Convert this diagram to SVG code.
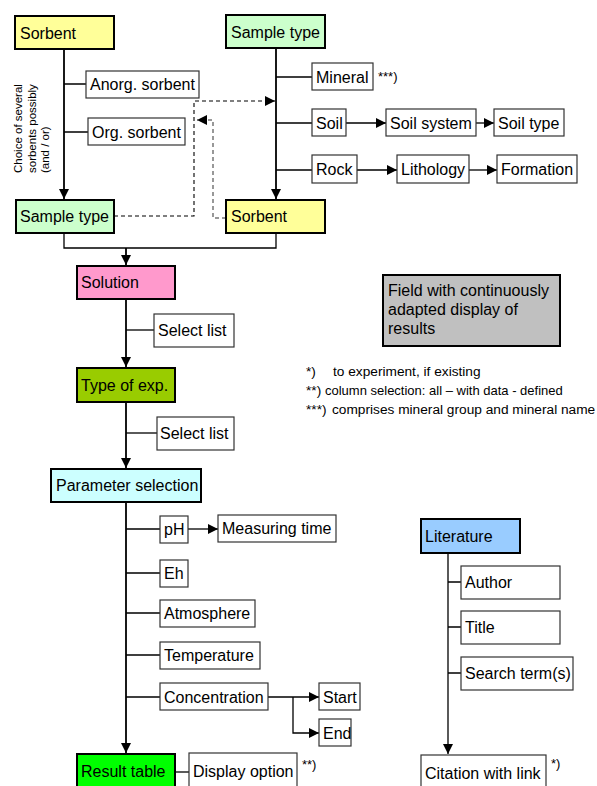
<svg xmlns="http://www.w3.org/2000/svg" width="597" height="786" viewBox="0 0 597 786">
  <style>
    text { font-family: "Liberation Sans", Arial, sans-serif; fill: #000; }
    .lbl { font-size: 16px; }
    .note { font-size: 13px; }
    .fn { font-size: 13.7px; }
    .small { font-size: 11.5px; }
    .main { stroke: #000; stroke-width: 2; }
    .sub { fill: #fff; stroke: #333; stroke-width: 1.2; }
    .ln { fill: none; stroke: #000; stroke-width: 1.3; }
    .trunk { fill: none; stroke: #000; stroke-width: 1.8; }
    .dash { fill: none; stroke: #000; stroke-width: 1.1; stroke-dasharray: 4 3; }
    .dashg { fill: none; stroke: #777; stroke-width: 1.5; stroke-dasharray: 4 3; }
  </style>
  <defs>
    <marker id="arr" markerUnits="userSpaceOnUse" markerWidth="11" markerHeight="10" refX="10" refY="5" orient="auto">
      <path d="M0,0 L10,5 L0,10 z" fill="#000"/>
    </marker>
  </defs>

  <!-- connectors -->
  <g id="connectors">
    <path class="trunk" d="M64,49 V199" marker-end="url(#arr)"/>
    <path class="ln" d="M64,84 H86 M64,132 H88"/>
    <path class="trunk" d="M276,48 V199" marker-end="url(#arr)"/>
    <path class="ln" d="M276,77 H312 M276,123 H312 M276,170 H312"/>
    <path class="ln" d="M346,123 H386" marker-end="url(#arr)"/>
    <path class="ln" d="M476,123 H494" marker-end="url(#arr)"/>
    <path class="ln" d="M357,170 H397" marker-end="url(#arr)"/>
    <path class="ln" d="M469,170 H497" marker-end="url(#arr)"/>
    <path class="dash" d="M114,216 H194 V101 H275" marker-end="url(#arr)"/>
    <path class="dashg" d="M226,218 H213 V120 H197" marker-end="url(#arr)"/>
    <path class="ln" d="M64,233 V248 H276 V233"/>
    <path class="trunk" d="M126,248 V265" marker-end="url(#arr)"/>
    <path class="trunk" d="M126,299 V367" marker-end="url(#arr)"/>
    <path class="ln" d="M126,330 H154"/>
    <path class="trunk" d="M126,402 V468" marker-end="url(#arr)"/>
    <path class="ln" d="M126,433 H157"/>
    <path class="trunk" d="M126,502 V753" marker-end="url(#arr)"/>
    <path class="ln" d="M126,529 H160 M126,573 H160 M126,613 H160 M126,655 H160 M126,697 H160"/>
    <path class="ln" d="M188,529 H218" marker-end="url(#arr)"/>
    <path class="ln" d="M268,697 H319" marker-end="url(#arr)"/>
    <path class="ln" d="M293,697 V733 H319" marker-end="url(#arr)"/>
    <path class="ln" d="M175,772 H189"/>
    <path class="ln" d="M448,553 V754" marker-end="url(#arr)"/>
    <path class="ln" d="M448,582 H461 M448,627 H461 M448,673 H461"/>
  </g>

  <!-- upper left branch -->
  <g id="sorbent-top">
    <rect class="main" x="15" y="16" width="99" height="33" fill="#FFFF99"/>
    <text class="lbl" x="20" y="39">Sorbent</text>
  </g>
  <g id="anorg-sorbent">
    <rect class="sub" x="86" y="71" width="113" height="27"/>
    <text class="lbl" x="90" y="90">Anorg. sorbent</text>
  </g>
  <g id="org-sorbent">
    <rect class="sub" x="88" y="118" width="97" height="27"/>
    <text class="lbl" x="92" y="138">Org. sorbent</text>
  </g>
  <g id="choice-note">
    <text class="small" transform="translate(22,173) rotate(-90)">
      <tspan x="0" y="0">Choice of several</tspan>
      <tspan x="0" y="13.5">sorbents possibly</tspan>
      <tspan x="0" y="27">(and / or)</tspan>
    </text>
  </g>
  <g id="sample-type-bottom">
    <rect class="main" x="16" y="200" width="98" height="33" fill="#CCFFCC"/>
    <text class="lbl" x="20" y="222">Sample type</text>
  </g>

  <!-- upper right branch -->
  <g id="sample-type-top">
    <rect class="main" x="226" y="15" width="99" height="33" fill="#CCFFCC"/>
    <text class="lbl" x="231" y="38">Sample type</text>
  </g>
  <g id="mineral">
    <rect class="sub" x="312" y="63" width="61" height="27"/>
    <text class="lbl" x="316" y="83">Mineral</text>
    <text class="note" x="378" y="81">***)</text>
  </g>
  <g id="soil">
    <rect class="sub" x="312" y="109" width="34" height="27"/>
    <text class="lbl" x="316" y="129">Soil</text>
  </g>
  <g id="soil-system">
    <rect class="sub" x="386" y="109" width="90" height="27"/>
    <text class="lbl" x="390" y="129">Soil system</text>
  </g>
  <g id="soil-type">
    <rect class="sub" x="494" y="109" width="70" height="27"/>
    <text class="lbl" x="498" y="129">Soil type</text>
  </g>
  <g id="rock">
    <rect class="sub" x="312" y="155" width="45" height="28"/>
    <text class="lbl" x="316" y="175">Rock</text>
  </g>
  <g id="lithology">
    <rect class="sub" x="397" y="155" width="72" height="28"/>
    <text class="lbl" x="401" y="175">Lithology</text>
  </g>
  <g id="formation">
    <rect class="sub" x="497" y="155" width="80" height="28"/>
    <text class="lbl" x="501" y="175">Formation</text>
  </g>
  <g id="sorbent-bottom">
    <rect class="main" x="226" y="200" width="99" height="33" fill="#FFFF99"/>
    <text class="lbl" x="231" y="222">Sorbent</text>
  </g>

  <!-- central chain -->
  <g id="solution">
    <rect class="main" x="77" y="266" width="98" height="33" fill="#FF99CC"/>
    <text class="lbl" x="81" y="288">Solution</text>
  </g>
  <g id="select-list-1">
    <rect class="sub" x="154" y="314" width="80" height="33"/>
    <text class="lbl" x="158" y="336">Select list</text>
  </g>
  <g id="type-of-exp">
    <rect class="main" x="77" y="368" width="98" height="34" fill="#99CC00"/>
    <text class="lbl" x="81" y="391">Type of exp.</text>
  </g>
  <g id="select-list-2">
    <rect class="sub" x="157" y="417" width="77" height="33"/>
    <text class="lbl" x="160" y="439">Select list</text>
  </g>
  <g id="parameter-selection">
    <rect class="main" x="51" y="469" width="150" height="33" fill="#CCFFFF"/>
    <text class="lbl" x="56" y="491">Parameter selection</text>
  </g>
  <g id="ph">
    <rect class="sub" x="160" y="516" width="28" height="27"/>
    <text class="lbl" x="164" y="535">pH</text>
  </g>
  <g id="measuring-time">
    <rect class="sub" x="218" y="515" width="118" height="27"/>
    <text class="lbl" x="222" y="534">Measuring time</text>
  </g>
  <g id="eh">
    <rect class="sub" x="160" y="560" width="28" height="27"/>
    <text class="lbl" x="164" y="579">Eh</text>
  </g>
  <g id="atmosphere">
    <rect class="sub" x="160" y="600" width="95" height="27"/>
    <text class="lbl" x="164" y="619">Atmosphere</text>
  </g>
  <g id="temperature">
    <rect class="sub" x="160" y="642" width="100" height="27"/>
    <text class="lbl" x="164" y="661">Temperature</text>
  </g>
  <g id="concentration">
    <rect class="sub" x="160" y="683" width="108" height="27"/>
    <text class="lbl" x="164" y="703">Concentration</text>
  </g>
  <g id="start">
    <rect class="sub" x="319" y="683" width="41" height="27"/>
    <text class="lbl" x="323" y="703">Start</text>
  </g>
  <g id="end">
    <rect class="sub" x="319" y="719" width="32" height="27"/>
    <text class="lbl" x="323" y="739">End</text>
  </g>
  <g id="result-table">
    <rect class="main" x="77" y="754" width="98" height="40" fill="#00FF00"/>
    <text class="lbl" x="81" y="777">Result table</text>
  </g>
  <g id="display-option">
    <rect class="sub" x="189" y="753" width="108" height="40"/>
    <text class="lbl" x="193" y="777">Display option</text>
    <text class="note" x="302" y="769">**)</text>
  </g>

  <!-- results field and footnotes -->
  <g id="results-field">
    <rect class="main" x="383" y="275" width="177" height="71" fill="#C0C0C0"/>
    <text class="lbl" x="388" y="296">Field with continuously</text>
    <text class="lbl" x="388" y="315">adapted display of</text>
    <text class="lbl" x="388" y="334">results</text>
  </g>
  <g id="footnotes">
    <text class="fn" x="306" y="376">*)</text>
    <text class="fn" x="333" y="376">to experiment, if existing</text>
    <text class="fn" x="306" y="395">**)</text>
    <text class="note" x="325" y="395" font-size="12.5">column selection: all – with data - defined</text>
    <text class="fn" x="306" y="414">***)</text>
    <text class="fn" x="332" y="414">comprises mineral group and mineral name</text>
  </g>

  <!-- literature branch -->
  <g id="literature">
    <rect class="main" x="421" y="519" width="99" height="34" fill="#99CCFF"/>
    <text class="lbl" x="425" y="542">Literature</text>
  </g>
  <g id="author">
    <rect class="sub" x="461" y="566" width="99" height="33"/>
    <text class="lbl" x="465" y="588">Author</text>
  </g>
  <g id="title">
    <rect class="sub" x="461" y="611" width="99" height="33"/>
    <text class="lbl" x="465" y="633">Title</text>
  </g>
  <g id="search-terms">
    <rect class="sub" x="461" y="657" width="112" height="33"/>
    <text class="lbl" x="465" y="679">Search term(s)</text>
  </g>
  <g id="citation">
    <rect class="sub" x="421" y="755" width="125" height="40"/>
    <text class="lbl" x="425" y="779">Citation with link</text>
    <text class="note" x="551" y="768">*)</text>
  </g>
</svg>
